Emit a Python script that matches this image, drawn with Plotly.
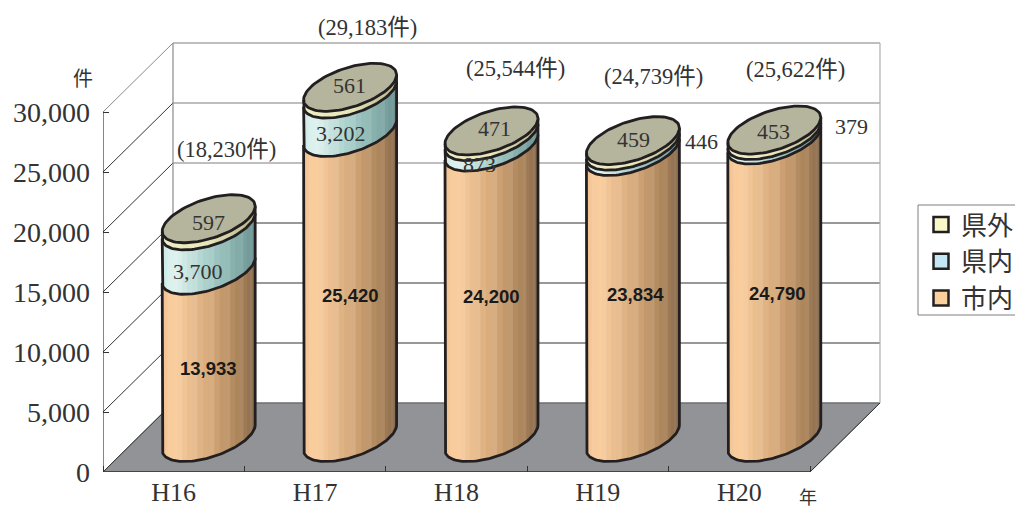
import math
import plotly.graph_objects as go

# ---- data ----
years = ["H16", "H17", "H18", "H19", "H20"]
city = [13933, 25420, 24200, 23834, 24790]      # 市内
pref = [3700, 3202, 873, 446, 379]              # 県内
outside = [597, 561, 471, 459, 453]             # 県外
totals = [18230, 29183, 25544, 24739, 25622]
y_ticks = [0, 5000, 10000, 15000, 20000, 25000, 30000]

# ---- style / layout ----
# the page body has an 8 px margin, so the figure is placed at (8,8)
W, H = 1015, 499
X0, X_UNIT = 95, 141.4           # px of category 0, px per category
Y0, Y_UNIT = 464, 83.333         # px of value 0, value units per px
DEPTH_X, DEPTH_Y = 0.495, 5750   # oblique depth in data units
A, B = 0.28, 0.348               # cylinder radii (width, depth fraction)
INK = "#231f20"
TXT = "#333333"
SERIF = "Liberation Serif, Noto Sans CJK JP, serif"
SANS = "Liberation Sans, Arial, sans-serif"
CJK = "Noto Sans CJK JP, sans-serif"
N_STRIP = 26

ramps = {
    "city": [(0, "#f3c292"), (.14, "#fbcf9f"), (.55, "#d3a678"), (.85, "#a98259"), (1, "#876a4e")],
    "pref": [(0, "#cdebe7"), (.14, "#e0f3f0"), (.5, "#a8cfca"), (.85, "#7fa8a5"), (1, "#6b9190")],
    "out": [(0, "#efefc6"), (.5, "#e6e6b8"), (1, "#b4b48c")],
}
cap_color = "#b5b49c"
floor_color = "#929396"


def hexrgb(h):
    return tuple(int(h[i:i + 2], 16) for i in (1, 3, 5))


def ramp_color(stops, p, boost=0.0):
    for (p0, c0), (p1, c1) in zip(stops, stops[1:]):
        if p <= p1:
            f = (p - p0) / (p1 - p0)
            rgb = [a + (b - a) * f for a, b in zip(hexrgb(c0), hexrgb(c1))]
            break
    rgb = [min(255, v + (255 - v) * boost) for v in rgb]
    return "rgb(%d,%d,%d)" % tuple(rgb)


By = B * DEPTH_Y
Bx = B * DEPTH_X
T0 = math.atan2(Bx, A)
XR = math.hypot(A, Bx)


def ell(c, v, t):
    return c + A * math.cos(t) + Bx * math.sin(t), v + By * math.sin(t)


def arc(c, v, t0, t1, n=60):
    pts = [ell(c, v, t0 + (t1 - t0) * i / n) for i in range(n + 1)]
    return [p[0] for p in pts], [p[1] for p in pts]


centers = [i + 0.5 + DEPTH_X / 2 for i in range(len(years))]
base_v = DEPTH_Y / 2

fig = go.Figure()


def seg(xs, ys, color, width=1.0):
    fig.add_trace(go.Scatter(x=xs, y=ys, mode="lines", line=dict(color=color, width=width),
                             hoverinfo="skip", showlegend=False, cliponaxis=False))


# floor
n = len(years)
fig.add_trace(go.Scatter(x=[0, n, n + DEPTH_X, DEPTH_X, 0], y=[0, 0, DEPTH_Y, DEPTH_Y, 0], mode="lines",
                         fill="toself", fillcolor=floor_color, line=dict(color="#6e6f72", width=1),
                         hoverinfo="skip", showlegend=False, cliponaxis=False))
# walls and grid
for tv in y_ticks:
    col = "#7f7f7f" if tv >= 20000 else "#333333"
    seg([DEPTH_X, n + DEPTH_X], [tv + DEPTH_Y] * 2, col if tv else "#6e6f72", 1.2)
    seg([0, DEPTH_X], [tv, tv + DEPTH_Y], "#8a8a8a" if tv == y_ticks[-1] else "#333333", 1)
seg([DEPTH_X, DEPTH_X], [DEPTH_Y, y_ticks[-1] + DEPTH_Y], "#8a8a8a", 1.2)
seg([n + DEPTH_X, n + DEPTH_X], [DEPTH_Y, y_ticks[-1] + DEPTH_Y], "#b0b0b0", 1.2)
seg([n, n + DEPTH_X], [0, DEPTH_Y], "#333333", 1)
# front axes
seg([0, 0], [0, y_ticks[-1]], "#333333", 1.2)
seg([0, n], [0, 0], "#333333", 1.5)

# cylinders
series = [("city", city), ("pref", pref), ("out", outside)]
bottoms = [base_v] * n
for name, vals in series:
    stops = ramps[name]
    tops = [b + v for b, v in zip(bottoms, vals)]
    # base fill
    bx, by = [], []
    for c, v0, v1 in zip(centers, bottoms, tops):
        x1, y1 = arc(c, v0, T0 + math.pi, T0 + 2 * math.pi)
        x2, y2 = arc(c, v1, T0 + 2 * math.pi, T0 + math.pi)
        bx += x1 + x2 + [None]
        by += y1 + y2 + [None]
    fig.add_trace(go.Scatter(x=bx, y=by, mode="none", fill="toself", fillcolor=ramp_color(stops, .5),
                             hoverinfo="skip", showlegend=False))
    # strips, grouped over columns
    for i in range(N_STRIP):
        t_a = T0 + math.pi + math.pi * i / N_STRIP
        t_b = T0 + math.pi + math.pi * min(i + 1.3, N_STRIP) / N_STRIP
        sx, sy = [], []
        for c, v0, v1 in zip(centers, bottoms, tops):
            x1, y1 = arc(c, v0, t_a, t_b, 6)
            x2, y2 = arc(c, v1, t_b, t_a, 6)
            sx += x1 + x2 + [None]
            sy += y1 + y2 + [None]
        xm = A * math.cos((t_a + t_b) / 2) + Bx * math.sin((t_a + t_b) / 2)
        p = max(0, min(1, (xm + XR) / (2 * XR)))
        boost = 0.07 if i % 3 == 1 else 0.0
        fig.add_trace(go.Scatter(x=sx, y=sy, mode="none", fill="toself",
                                 fillcolor=ramp_color(stops, p, boost),
                                 hoverinfo="skip", showlegend=False))
    # outline
    ox, oy = [], []
    for c, v0, v1 in zip(centers, bottoms, tops):
        x1, y1 = arc(c, v0, T0 + math.pi, T0 + 2 * math.pi)
        ox += [ell(c, v1, T0 + math.pi)[0]] + x1 + [ell(c, v1, T0 + 2 * math.pi)[0], None]
        oy += [ell(c, v1, T0 + math.pi)[1]] + y1 + [ell(c, v1, T0 + 2 * math.pi)[1], None]
    fig.add_trace(go.Scatter(x=ox, y=oy, mode="lines", line=dict(color=INK, width=2.8),
                             hoverinfo="skip", showlegend=False))
    bottoms = tops

# top caps
cx, cy = [], []
for c, v in zip(centers, bottoms):
    x1, y1 = arc(c, v, 0, 2 * math.pi, 90)
    cx += x1 + [None]
    cy += y1 + [None]
fig.add_trace(go.Scatter(x=cx, y=cy, mode="lines", fill="toself", fillcolor=cap_color,
                         line=dict(color=INK, width=2.8), hoverinfo="skip", showlegend=False))

# legend entries
for label_text, col in [("県外", "#f8f7c8"), ("県内", "#c5e7f5"), ("市内", "#fcd09c")]:
    fig.add_trace(go.Scatter(x=[None], y=[None], mode="markers", name=label_text,
                             marker=dict(symbol="square", size=15, color=col, line=dict(color=INK, width=2.5)),
                             legendgroup=label_text))

# data labels: anchor at segment middle + pixel shifts
fmt = "{:,}"
annos = []


def label(x, y, text, dx, dy, font, size, color=TXT):
    annos.append(dict(x=x, y=y, text=text, xshift=dx, yshift=-dy, showarrow=False,
                      font=dict(family=font, size=size, color=color), xanchor="center", yanchor="middle"))


city_dx = [0, 0, 0, 3, 3]
city_dy = [15, 11, 4, 0, 5]
pref_dx = [-11, -9, -12, 69, 77]
pref_dy = [23, 20, 23, -7, -11]
out_dx = [0, -1, 3, 1, -1]
out_dy = [0, -5, -5, -4, -1]
tot_dx = [18, 17, 24, 21, 21]
tot_dy = [-69, -60, -62, -64, -61]
for i, c in enumerate(centers):
    v = base_v
    label(c, v + city[i] / 2, "<b>" + fmt.format(city[i]) + "</b>", city_dx[i], city_dy[i], SANS, 18.5, "#1a1a1a")
    v += city[i]
    label(c, v + pref[i] / 2, fmt.format(pref[i]), pref_dx[i], pref_dy[i], SERIF, 22)
    v += pref[i]
    label(c, v + outside[i] / 2, fmt.format(outside[i]), out_dx[i], out_dy[i], SERIF, 22)
    v += outside[i]
    label(c, v, "(" + fmt.format(totals[i]) + "件)", tot_dx[i], tot_dy[i], SERIF, 22.5)

annos.append(dict(x=0, y=y_ticks[-1], text="件", xshift=-20, yshift=35, showarrow=False,
                  font=dict(family=CJK, size=20, color=TXT)))
annos.append(dict(x=n, y=0, text="年", xshift=-2, yshift=-24, showarrow=False,
                  font=dict(family=CJK, size=18, color=TXT)))

fig.update_layout(
    width=W, height=H, margin=dict(l=0, r=0, t=0, b=0, autoexpand=False),
    paper_bgcolor="white", plot_bgcolor="white",
    xaxis=dict(domain=[X0 / W, 1], range=[0, (W - X0) / X_UNIT], showgrid=False, zeroline=False, showline=False,
               tickvals=[i + .5 for i in range(n)], ticktext=years, ticks="", ticklabelstandoff=2,
               tickfont=dict(family=SERIF, size=26, color=TXT),
               minor=dict(tickvals=list(range(n + 1)), ticks="inside", ticklen=6, tickcolor="#333333", tickwidth=1)),
    yaxis=dict(domain=[(H - Y0) / H, 1], range=[0, Y0 * Y_UNIT], showgrid=False, zeroline=False, showline=False,
               tickvals=y_ticks, ticktext=[fmt.format(v) for v in y_ticks], ticks="inside", ticklen=6,
               tickcolor="#333333", ticklabelstandoff=12,
               tickfont=dict(family=SERIF, size=28, color=TXT)),
    legend=dict(x=(921 - 8) / W, y=(H - (201 - 8)) / H, xanchor="left", yanchor="top", bgcolor="rgba(0,0,0,0)",
                borderwidth=0, traceorder="normal", tracegroupgap=2, itemwidth=30,
                font=dict(family=CJK, size=26, color=TXT)),
    shapes=[dict(type="rect", xref="paper", yref="paper", x0=(918 - 8) / W, x1=1.02,
                 y0=(H - (315 - 8)) / H, y1=(H - (205 - 8)) / H,
                 line=dict(color="#7f7f7f", width=1), fillcolor="white", layer="below")],
    annotations=annos,
    showlegend=True,
)
fig.write_html("out.html")
